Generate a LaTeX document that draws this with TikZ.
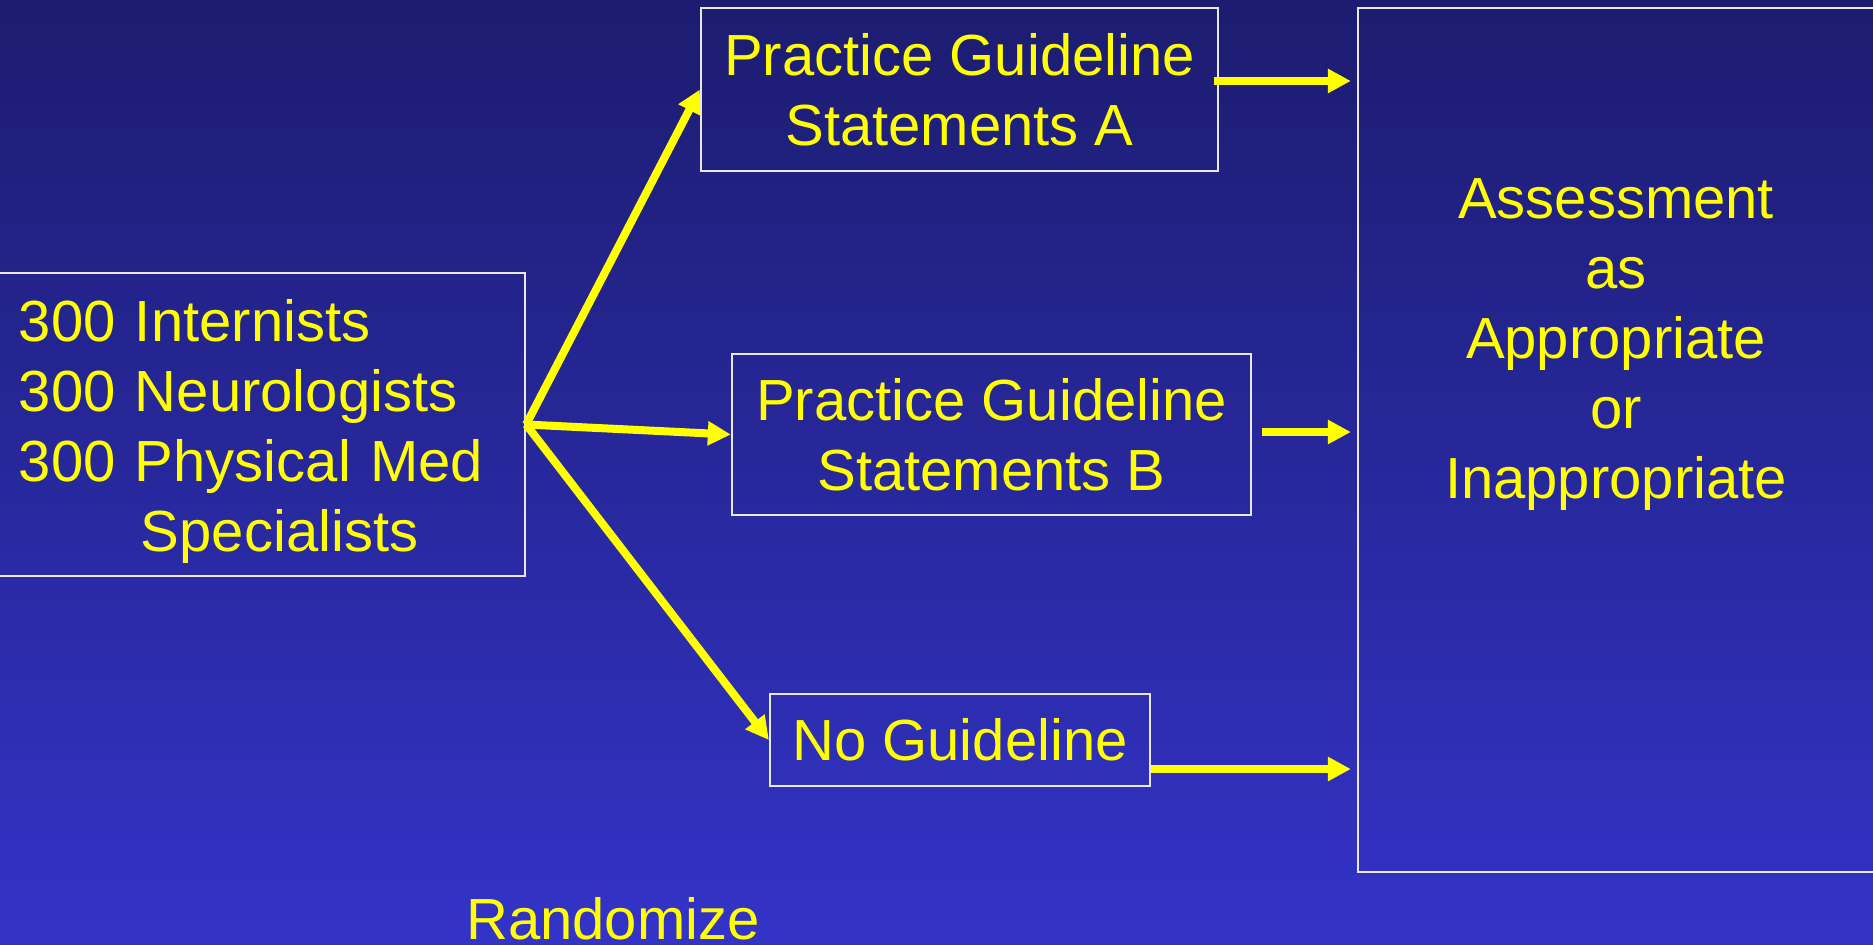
\documentclass[tikz,border=0pt]{standalone}
\usepackage{fontspec}
\setmainfont{Liberation Sans}
\usepackage{tikz}
\usetikzlibrary{arrows.meta, positioning}

\definecolor{slidetop}{RGB}{28,28,112}
\definecolor{slidebottom}{RGB}{51,51,200}
\definecolor{guideyellow}{RGB}{255,255,0}
\definecolor{boxline}{RGB}{232,232,222}

\begin{document}
\begin{tikzpicture}[x=0.01cm, y=-0.01cm]
			\tikzset {panel/.style={draw=boxline, line width=0.02cm, text=guideyellow, font=\fontsize{16.5}{19.9}\selectfont, align=center, inner sep=0pt}, flow/.style={-{Triangle[length=0.23cm, width=0.23cm]}, draw=guideyellow, line width=0.08cm} }

			\useasboundingbox (0,0) rectangle (1873,944);
			\shade[top color=slidetop, bottom color=slidebottom] (0,0) rectangle (1873,944);

			\node[panel, minimum width=5.35cm, minimum height=3.03cm, text width=4.77cm, align=left] (docs) at (257.5,424.5) {\rule{0pt}{0.56cm}300 Internists\\300 Neurologists\\300 Physical Med\\\hspace*{1.22cm}Specialists};
			\node[panel, minimum width=5.17cm, minimum height=1.63cm] (stmtA) at (959.5,89.5) {Practice Guideline\\Statements A};
			\node[panel, minimum width=5.19cm, minimum height=1.61cm] (stmtB) at (991.5,434.5) {Practice Guideline\\Statements B};
			\node[panel, minimum width=3.80cm, minimum height=0.92cm] (noguide) at (960,740) {No Guideline};
			\node[panel, minimum width=5.17cm, minimum height=8.64cm] (assess) at (1616.5,440) {};
			\node[panel, draw=none] (verdict) at (1616,344.5) {Assessment\\as\\Appropriate\\or\\Inappropriate};
			\node[panel, draw=none, anchor=base] (rand) at (613,939) {Randomize};

			\coordinate (outA) at ([xshift=-0.05cm, yshift=0.085cm]stmtA.east);
			\coordinate (outB) at ([xshift=0.10cm, yshift=0.025cm]stmtB.east);
			\coordinate (outC) at ([yshift=-0.29cm]noguide.east);

			\draw[flow] (docs.east) -- (stmtA.west);
			\draw[flow] (docs.east) -- (stmtB.west);
			\draw[flow] (docs.east) -- (noguide.west);
			\draw[flow, shorten >=0.06cm] (outA) -- (outA -| assess.west);
			\draw[flow, shorten >=0.06cm] (outB) -- (outB -| assess.west);
			\draw[flow, shorten >=0.06cm] (outC) -- (outC -| assess.west);
		\end{tikzpicture}
\end{document}
